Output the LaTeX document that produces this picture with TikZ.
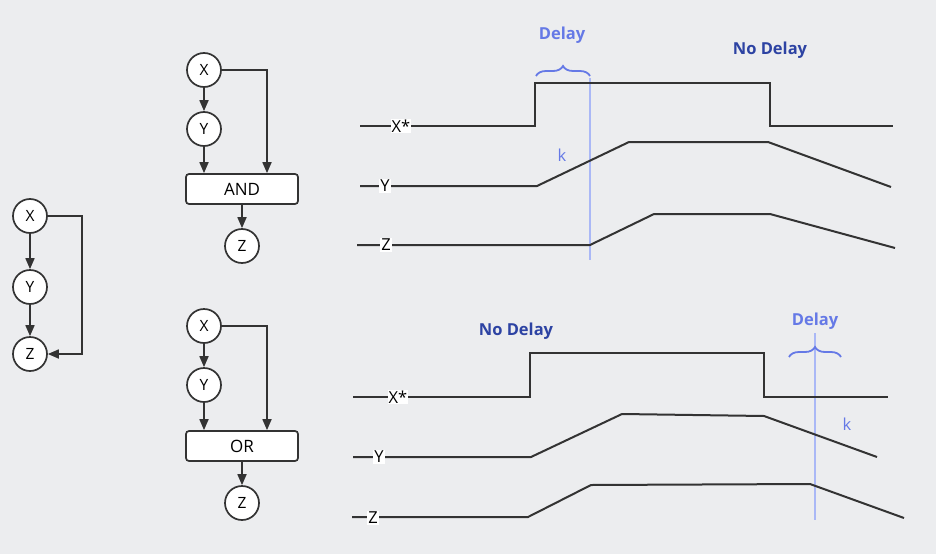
\documentclass[tikz,border=0pt]{standalone}
\usepackage{fontspec}
\setmainfont{Open Sans}
\usepackage{tikz}
\usetikzlibrary{arrows.meta,decorations.pathreplacing}

\definecolor{bgcol}{HTML}{ECEDEF}
\definecolor{ink}{HTML}{333333}
\definecolor{delayblue}{HTML}{6579E6}
\definecolor{markline}{HTML}{AAB8F6}
\definecolor{nodelay}{HTML}{2D43A3}

\tikzset{
  var/.style={draw=ink, line width=1.7pt, fill=white, circle, minimum size=34pt, inner sep=0pt, font=\fontsize{15.5}{15.5}\selectfont},
  gate/.style={draw=ink, line width=1.7pt, fill=white, rounded corners=3pt, minimum width=112pt, minimum height=30pt, font=\fontsize{17}{17}\selectfont},
  link/.style={draw=ink, line width=1.7pt, -{Triangle[length=11pt,width=9pt]}},
  wave/.style={draw=ink, line width=2pt},
  sig/.style={fill=white, inner sep=1pt, font=\fontsize{16.5}{16.5}\selectfont},
  marker/.style={draw=markline, line width=1.8pt},
  bracket/.style={draw=delayblue, line width=1.8pt, decorate, decoration={brace, amplitude=10pt}},
  delaytxt/.style={text=delayblue, font=\bfseries\fontsize{16.5}{16.5}\selectfont},
  nodelaytxt/.style={text=nodelay, font=\bfseries\fontsize{16.5}{16.5}\selectfont},
  ktxt/.style={text=delayblue, font=\fontsize{16.5}{16.5}\selectfont}
}

\begin{document}
\begin{tikzpicture}[x=1pt, y=-1pt]
  \fill[bgcol] (0,0) rectangle (936,554);
  \useasboundingbox (0,0) rectangle (936,554);

  % plain chain
  \node (cx) at (30,216) [var] {X};
  \node (cy) at (30,287) [var] {Y};
  \node (cz) at (30,354) [var] {Z};
  \draw[link] (cx) -- (cy);
  \draw[link] (cy) -- (cz);
  \draw[link] (cx.east) -| (82,300) |- (cz.east);

  % AND circuit
  \node (ax) at (204,70) [var] {X};
  \node (ay) at (204,129) [var] {Y};
  \node (agate) at (242,189) [gate] {AND};
  \node (az) at (242,246) [var] {Z};
  \draw[link] (ax) -- (ay);
  \draw[link] (ay) -- (ay |- agate.north);
  \draw[link] (ax.east) -| (agate.north -| 267,0);
  \draw[link] (agate) -- (az);

  % OR circuit
  \node (ox) at (204,326) [var] {X};
  \node (oy) at (204,385) [var] {Y};
  \node (ogate) at (242,446) [gate] {OR};
  \node (oz) at (242,503) [var] {Z};
  \draw[link] (ox) -- (oy);
  \draw[link] (oy) -- (oy |- ogate.north);
  \draw[link] (ox.east) -| (ogate.north -| 267,0);
  \draw[link] (ogate) -- (oz);

  % AND timing
  \draw[marker] (590,78) -- (590,260);
  \draw[wave] (360,126) -- (535,126) -- (535,83) -- (770,83) -- (770,126) -- (893,126);
  \draw[wave] (360,186) -- (537,186) -- (629,142) -- (768,142) -- (891,187);
  \draw[wave] (357,245) -- (590,245) -- (654,214) -- (770,214) -- (895,248);
  \node (axs) at (401,126) [sig] {X*};
  \node (ays) at (385,186) [sig] {Y};
  \node (azs) at (386,245) [sig] {Z};
  \draw[bracket] (536,76) -- (590,76);
  \node (adelay) at (562,35) [delaytxt] {Delay};
  \node (ak) at (562,155) [ktxt] {k};
  \node (anodelay) at (770,50) [nodelaytxt] {No Delay};

  % OR timing
  \draw[marker] (815,333) -- (815,520);
  \draw[wave] (353,397) -- (530,397) -- (530,353) -- (764,353) -- (764,397) -- (888,397);
  \draw[wave] (353,457) -- (531,457) -- (622,414) -- (764,416) -- (877,457);
  \draw[wave] (352,517) -- (528,517) -- (591,485) -- (810,484) -- (904,518);
  \node (oxs) at (398,397) [sig] {X*};
  \node (oys) at (379,457) [sig] {Y};
  \node (ozs) at (373,518) [sig] {Z};
  \draw[bracket] (789,357) -- (841,357);
  \node (odelay) at (815,321) [delaytxt] {Delay};
  \node (ok) at (847,424) [ktxt] {k};
  \node (onodelay) at (516,331) [nodelaytxt] {No Delay};
\end{tikzpicture}
\end{document}
